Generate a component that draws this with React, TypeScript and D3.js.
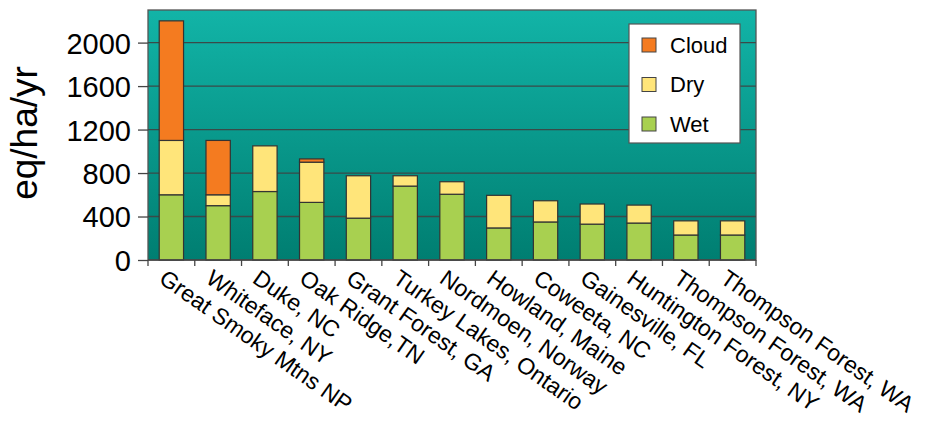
import { useEffect, useMemo, useRef } from "react";
import * as d3 from "d3";

const WIDTH = 925;
const HEIGHT = 423;
const MARGIN = { top: 10, right: 169, bottom: 163, left: 148 };

const SITES = [
  "Great Smoky Mtns NP",
  "Whiteface, NY",
  "Duke, NC",
  "Oak Ridge,TN",
  "Grant Forest, GA",
  "Turkey Lakes, Ontario",
  "Nordmoen, Norway",
  "Howland, Maine",
  "Coweeta, NC",
  "Gainesville, FL",
  "Huntington Forest, NY",
  "Thompson Forest, WA",
  "Thompson Forest, WA",
];
const WET = [600, 500, 630, 530, 385, 680, 605, 295, 350, 330, 340, 230, 230];
const DRY = [500, 100, 420, 370, 390, 95, 115, 300, 195, 185, 165, 130, 130];
const CLOUD = [1100, 500, 0, 30, 0, 0, 0, 0, 0, 0, 0, 0, 0];
const SERIES = ["Wet", "Dry", "Cloud"];
const COLORS: Record<string, string> = { Wet: "#A8D050", Dry: "#FFE57A", Cloud: "#F47B20" };
const Y_TICKS = [0, 400, 800, 1200, 1600, 2000];
const FONT = "Liberation Sans, Arial, sans-serif";

export default function App() {
  const axesRef = useRef(null);
  const boundsWidth = WIDTH - MARGIN.left - MARGIN.right;
  const boundsHeight = HEIGHT - MARGIN.top - MARGIN.bottom;

  const rows = SITES.map((s, i) => ({ key: i, Wet: WET[i], Dry: DRY[i], Cloud: CLOUD[i] }));

  const xScale = useMemo(
    () => d3.scaleBand<number>().domain(rows.map((r) => r.key)).range([0, boundsWidth]).paddingInner(0.48).paddingOuter(0.24),
    []
  );
  const yScale = useMemo(() => d3.scaleLinear().domain([0, 2300]).range([boundsHeight, 0]), []);

  const stacked = d3.stack<any>().keys(SERIES)(rows);

  useEffect(() => {
    const g = d3.select(axesRef.current);
    g.selectAll("*").remove();

    // y axis: ticks + labels
    const yAxis = g
      .append("g")
      .call(d3.axisLeft(yScale).tickValues(Y_TICKS).tickFormat(d3.format("d")).tickSize(10).tickSizeOuter(0).tickPadding(7));
    yAxis.select(".domain").remove();
    yAxis.selectAll(".tick line").attr("stroke", "#444").attr("stroke-width", 1.3);
    yAxis.selectAll("text").style("font-family", FONT).style("font-size", "29px").attr("fill", "#000").attr("dy", "0.36em");

    // x axis ticks between categories
    const edges = d3.range(SITES.length + 1).map((i) => i * (boundsWidth / SITES.length));
    g.append("g")
      .selectAll("line")
      .data(edges)
      .join("line")
      .attr("x1", (d) => d)
      .attr("x2", (d) => d)
      .attr("y1", boundsHeight)
      .attr("y2", boundsHeight + 6)
      .attr("stroke", "#444")
      .attr("stroke-width", 1.3);

    // x labels
    g.append("g")
      .selectAll("text")
      .data(SITES)
      .join("text")
      .attr("transform", (_, i) => `translate(${(xScale(i) ?? 0) + xScale.bandwidth() / 2 - 4},${boundsHeight + 8}) rotate(35)`)
      .attr("dominant-baseline", "hanging")
      .style("font-family", FONT)
      .style("font-size", "23px")
      .attr("fill", "#000")
      .text((d) => d);
  }, [xScale, yScale, boundsHeight, boundsWidth]);

  const legendX = 629 - MARGIN.left;
  const legendY = 24 - MARGIN.top;

  return (
    <svg width={WIDTH} height={HEIGHT} style={{ position: "absolute", left: 0, top: 0 }}>
      <defs>
        <linearGradient id="bg" x1="0" y1="0" x2="0" y2="1">
          <stop offset="0%" stopColor="#12B4A7" />
          <stop offset="100%" stopColor="#007E71" />
        </linearGradient>
      </defs>
      <g transform={`translate(${MARGIN.left},${MARGIN.top})`}>
        <rect x={0} y={0} width={boundsWidth} height={boundsHeight} fill="url(#bg)" stroke="#555" strokeWidth={1.3} />
        {Y_TICKS.filter((t) => t > 0).map((t) => (
          <line key={t} x1={0} x2={boundsWidth} y1={yScale(t)} y2={yScale(t)} stroke="#3a4a48" strokeWidth={1.3} />
        ))}
        {stacked.map((layer) =>
          layer
            .filter((d) => d[1] - d[0] > 0)
            .map((d, i) => (
              <rect
                key={`${layer.key}-${i}`}
                x={xScale(d.data.key)}
                width={xScale.bandwidth()}
                y={yScale(d[1])}
                height={yScale(d[0]) - yScale(d[1])}
                fill={COLORS[layer.key]}
                stroke="#333"
                strokeWidth={1.2}
              />
            ))
        )}
        <line x1={0} x2={boundsWidth} y1={boundsHeight} y2={boundsHeight} stroke="#444" strokeWidth={1.5} />
        <g transform={`translate(${legendX},${legendY})`}>
          <rect width={111} height={119} fill="#fff" stroke="#555" strokeWidth={1.2} />
          {["Cloud", "Dry", "Wet"].map((s, i) => (
            <g key={s} transform={`translate(0,${21 + i * 39.5})`}>
              <rect x={13} y={-7} width={14} height={14} fill={COLORS[s]} stroke="#444" strokeWidth={1} />
              <text x={41} y={0} dy="0.36em" fontFamily={FONT} fontSize={22} fill="#000">
                {s}
              </text>
            </g>
          ))}
        </g>
      </g>
      <g ref={axesRef} transform={`translate(${MARGIN.left},${MARGIN.top})`} />
      <text
        transform={`translate(37,${MARGIN.top + 123}) rotate(-90)`}
        textAnchor="middle"
        fontFamily={FONT}
        fontSize={37}
        fill="#000"
      >
        eq/ha/yr
      </text>
    </svg>
  );
}
